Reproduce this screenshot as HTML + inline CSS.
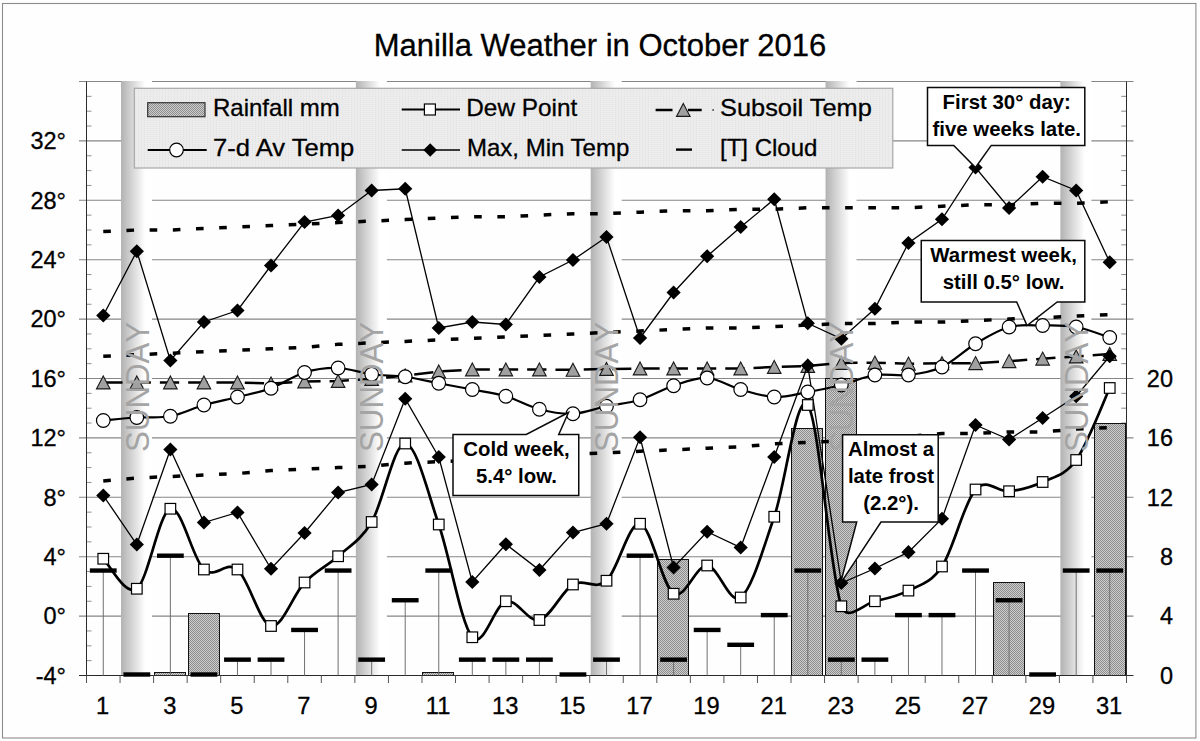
<!DOCTYPE html>
<html><head><meta charset="utf-8"><title>Manilla Weather in October 2016</title>
<style>html,body{margin:0;padding:0;background:#fefefe;}svg{display:block;font-family:"Liberation Sans",sans-serif;}</style></head>
<body>
<svg width="1200" height="741" viewBox="0 0 1200 741" font-family="Liberation Sans, sans-serif">
<defs>
<pattern id="pt" width="2" height="2" patternUnits="userSpaceOnUse"><rect width="2" height="2" fill="#cecece"/><rect width="1" height="1" fill="#8c8c8c"/><rect x="1" y="1" width="1" height="1" fill="#8c8c8c"/></pattern>
<pattern id="lg" width="3" height="2" patternUnits="userSpaceOnUse"><rect width="3" height="2" fill="#ececec"/><rect width="1" height="1" fill="#e2e2e2"/></pattern>
<linearGradient id="sg" x1="0" x2="1" y1="0" y2="0"><stop offset="0" stop-color="#b2b2b2"/><stop offset="0.78" stop-color="#ffffff"/><stop offset="1" stop-color="#ffffff"/></linearGradient>
</defs>
<rect width="1200" height="741" fill="#fefefe"/>
<rect x="2.5" y="3.5" width="1193.4" height="734.5" fill="none" stroke="#8c8c8c" stroke-width="1.1"/>
<text x="600" y="55.8" font-size="31" text-anchor="middle" fill="#000" stroke="#000" stroke-width="0.3">Manilla Weather in October 2016</text>
<line x1="79" x2="1133.5" y1="616.1" y2="616.1" stroke="#868686" stroke-width="1.1"/>
<line x1="79" x2="1133.5" y1="556.7" y2="556.7" stroke="#868686" stroke-width="1.1"/>
<line x1="79" x2="1133.5" y1="497.3" y2="497.3" stroke="#868686" stroke-width="1.1"/>
<line x1="79" x2="1133.5" y1="437.9" y2="437.9" stroke="#868686" stroke-width="1.1"/>
<line x1="79" x2="1133.5" y1="378.5" y2="378.5" stroke="#868686" stroke-width="1.1"/>
<line x1="79" x2="1133.5" y1="319.1" y2="319.1" stroke="#868686" stroke-width="1.1"/>
<line x1="79" x2="1133.5" y1="259.7" y2="259.7" stroke="#868686" stroke-width="1.1"/>
<line x1="79" x2="1133.5" y1="200.3" y2="200.3" stroke="#868686" stroke-width="1.1"/>
<line x1="79" x2="1133.5" y1="140.9" y2="140.9" stroke="#868686" stroke-width="1.1"/>
<line x1="79" x2="1133.5" y1="81.5" y2="81.5" stroke="#868686" stroke-width="1.1"/>
<rect x="121.02" y="81" width="31" height="594.5" fill="url(#sg)"/>
<rect x="355.86" y="81" width="31" height="594.5" fill="url(#sg)"/>
<rect x="590.7" y="81" width="31" height="594.5" fill="url(#sg)"/>
<rect x="825.54" y="81" width="31" height="594.5" fill="url(#sg)"/>
<rect x="1060.38" y="81" width="31" height="594.5" fill="url(#sg)"/>
<line x1="86.5" x2="91.5" y1="660.65" y2="660.65" stroke="#909090" stroke-width="1"/>
<line x1="1121.3" x2="1126.5" y1="660.65" y2="660.65" stroke="#888" stroke-width="1"/>
<line x1="86.5" x2="91.5" y1="645.8" y2="645.8" stroke="#909090" stroke-width="1"/>
<line x1="1121.3" x2="1126.5" y1="645.8" y2="645.8" stroke="#888" stroke-width="1"/>
<line x1="86.5" x2="91.5" y1="630.95" y2="630.95" stroke="#909090" stroke-width="1"/>
<line x1="1121.3" x2="1126.5" y1="630.95" y2="630.95" stroke="#888" stroke-width="1"/>
<line x1="86.5" x2="91.5" y1="601.25" y2="601.25" stroke="#909090" stroke-width="1"/>
<line x1="1121.3" x2="1126.5" y1="601.25" y2="601.25" stroke="#888" stroke-width="1"/>
<line x1="86.5" x2="91.5" y1="586.4" y2="586.4" stroke="#909090" stroke-width="1"/>
<line x1="1121.3" x2="1126.5" y1="586.4" y2="586.4" stroke="#888" stroke-width="1"/>
<line x1="86.5" x2="91.5" y1="571.55" y2="571.55" stroke="#909090" stroke-width="1"/>
<line x1="1121.3" x2="1126.5" y1="571.55" y2="571.55" stroke="#888" stroke-width="1"/>
<line x1="86.5" x2="91.5" y1="541.85" y2="541.85" stroke="#909090" stroke-width="1"/>
<line x1="1121.3" x2="1126.5" y1="541.85" y2="541.85" stroke="#888" stroke-width="1"/>
<line x1="86.5" x2="91.5" y1="527" y2="527" stroke="#909090" stroke-width="1"/>
<line x1="1121.3" x2="1126.5" y1="527" y2="527" stroke="#888" stroke-width="1"/>
<line x1="86.5" x2="91.5" y1="512.15" y2="512.15" stroke="#909090" stroke-width="1"/>
<line x1="1121.3" x2="1126.5" y1="512.15" y2="512.15" stroke="#888" stroke-width="1"/>
<line x1="86.5" x2="91.5" y1="482.45" y2="482.45" stroke="#909090" stroke-width="1"/>
<line x1="1121.3" x2="1126.5" y1="482.45" y2="482.45" stroke="#888" stroke-width="1"/>
<line x1="86.5" x2="91.5" y1="467.6" y2="467.6" stroke="#909090" stroke-width="1"/>
<line x1="1121.3" x2="1126.5" y1="467.6" y2="467.6" stroke="#888" stroke-width="1"/>
<line x1="86.5" x2="91.5" y1="452.75" y2="452.75" stroke="#909090" stroke-width="1"/>
<line x1="1121.3" x2="1126.5" y1="452.75" y2="452.75" stroke="#888" stroke-width="1"/>
<line x1="86.5" x2="91.5" y1="423.05" y2="423.05" stroke="#909090" stroke-width="1"/>
<line x1="1121.3" x2="1126.5" y1="423.05" y2="423.05" stroke="#888" stroke-width="1"/>
<line x1="86.5" x2="91.5" y1="408.2" y2="408.2" stroke="#909090" stroke-width="1"/>
<line x1="1121.3" x2="1126.5" y1="408.2" y2="408.2" stroke="#888" stroke-width="1"/>
<line x1="86.5" x2="91.5" y1="393.35" y2="393.35" stroke="#909090" stroke-width="1"/>
<line x1="1121.3" x2="1126.5" y1="393.35" y2="393.35" stroke="#888" stroke-width="1"/>
<line x1="86.5" x2="91.5" y1="363.65" y2="363.65" stroke="#909090" stroke-width="1"/>
<line x1="1121.3" x2="1126.5" y1="363.65" y2="363.65" stroke="#888" stroke-width="1"/>
<line x1="86.5" x2="91.5" y1="348.8" y2="348.8" stroke="#909090" stroke-width="1"/>
<line x1="1121.3" x2="1126.5" y1="348.8" y2="348.8" stroke="#888" stroke-width="1"/>
<line x1="86.5" x2="91.5" y1="333.95" y2="333.95" stroke="#909090" stroke-width="1"/>
<line x1="1121.3" x2="1126.5" y1="333.95" y2="333.95" stroke="#888" stroke-width="1"/>
<line x1="86.5" x2="91.5" y1="304.25" y2="304.25" stroke="#909090" stroke-width="1"/>
<line x1="1121.3" x2="1126.5" y1="304.25" y2="304.25" stroke="#888" stroke-width="1"/>
<line x1="86.5" x2="91.5" y1="289.4" y2="289.4" stroke="#909090" stroke-width="1"/>
<line x1="1121.3" x2="1126.5" y1="289.4" y2="289.4" stroke="#888" stroke-width="1"/>
<line x1="86.5" x2="91.5" y1="274.55" y2="274.55" stroke="#909090" stroke-width="1"/>
<line x1="1121.3" x2="1126.5" y1="274.55" y2="274.55" stroke="#888" stroke-width="1"/>
<line x1="86.5" x2="91.5" y1="244.85" y2="244.85" stroke="#909090" stroke-width="1"/>
<line x1="1121.3" x2="1126.5" y1="244.85" y2="244.85" stroke="#888" stroke-width="1"/>
<line x1="86.5" x2="91.5" y1="230" y2="230" stroke="#909090" stroke-width="1"/>
<line x1="1121.3" x2="1126.5" y1="230" y2="230" stroke="#888" stroke-width="1"/>
<line x1="86.5" x2="91.5" y1="215.15" y2="215.15" stroke="#909090" stroke-width="1"/>
<line x1="1121.3" x2="1126.5" y1="215.15" y2="215.15" stroke="#888" stroke-width="1"/>
<line x1="86.5" x2="91.5" y1="185.45" y2="185.45" stroke="#909090" stroke-width="1"/>
<line x1="1121.3" x2="1126.5" y1="185.45" y2="185.45" stroke="#888" stroke-width="1"/>
<line x1="86.5" x2="91.5" y1="170.6" y2="170.6" stroke="#909090" stroke-width="1"/>
<line x1="1121.3" x2="1126.5" y1="170.6" y2="170.6" stroke="#888" stroke-width="1"/>
<line x1="86.5" x2="91.5" y1="155.75" y2="155.75" stroke="#909090" stroke-width="1"/>
<line x1="1121.3" x2="1126.5" y1="155.75" y2="155.75" stroke="#888" stroke-width="1"/>
<line x1="86.5" x2="91.5" y1="126.05" y2="126.05" stroke="#909090" stroke-width="1"/>
<line x1="1121.3" x2="1126.5" y1="126.05" y2="126.05" stroke="#888" stroke-width="1"/>
<line x1="86.5" x2="91.5" y1="111.2" y2="111.2" stroke="#909090" stroke-width="1"/>
<line x1="1121.3" x2="1126.5" y1="111.2" y2="111.2" stroke="#888" stroke-width="1"/>
<line x1="86.5" x2="91.5" y1="96.35" y2="96.35" stroke="#909090" stroke-width="1"/>
<line x1="1121.3" x2="1126.5" y1="96.35" y2="96.35" stroke="#888" stroke-width="1"/>
<rect x="154.5" y="672.5" width="31" height="3" fill="url(#pt)" stroke="#111" stroke-width="1"/>
<rect x="188.5" y="613.5" width="31" height="62" fill="url(#pt)" stroke="#111" stroke-width="1"/>
<rect x="422.5" y="672.5" width="31" height="3" fill="url(#pt)" stroke="#111" stroke-width="1"/>
<rect x="657.5" y="559.5" width="31" height="116" fill="url(#pt)" stroke="#111" stroke-width="1"/>
<rect x="791.5" y="428.5" width="31" height="247" fill="url(#pt)" stroke="#111" stroke-width="1"/>
<rect x="825.5" y="378.5" width="31" height="297" fill="url(#pt)" stroke="#111" stroke-width="1"/>
<rect x="993.5" y="582.5" width="31" height="93" fill="url(#pt)" stroke="#111" stroke-width="1"/>
<rect x="1094.5" y="423.5" width="31" height="252" fill="url(#pt)" stroke="#111" stroke-width="1"/>
<line x1="86.5" x2="86.5" y1="81.5" y2="675.5" stroke="#2a2a2a" stroke-width="1"/>
<line x1="1126.5" x2="1126.5" y1="81.5" y2="675.5" stroke="#2a2a2a" stroke-width="1"/>
<line x1="79" x2="1133.5" y1="675.5" y2="675.5" stroke="#2a2a2a" stroke-width="1"/>
<line x1="86.5" x2="86.5" y1="675.5" y2="683" stroke="#555" stroke-width="1"/>
<line x1="120.05" x2="120.05" y1="675.5" y2="683" stroke="#555" stroke-width="1"/>
<line x1="153.6" x2="153.6" y1="675.5" y2="683" stroke="#555" stroke-width="1"/>
<line x1="187.15" x2="187.15" y1="675.5" y2="683" stroke="#555" stroke-width="1"/>
<line x1="220.69" x2="220.69" y1="675.5" y2="683" stroke="#555" stroke-width="1"/>
<line x1="254.24" x2="254.24" y1="675.5" y2="683" stroke="#555" stroke-width="1"/>
<line x1="287.79" x2="287.79" y1="675.5" y2="683" stroke="#555" stroke-width="1"/>
<line x1="321.34" x2="321.34" y1="675.5" y2="683" stroke="#555" stroke-width="1"/>
<line x1="354.89" x2="354.89" y1="675.5" y2="683" stroke="#555" stroke-width="1"/>
<line x1="388.44" x2="388.44" y1="675.5" y2="683" stroke="#555" stroke-width="1"/>
<line x1="421.98" x2="421.98" y1="675.5" y2="683" stroke="#555" stroke-width="1"/>
<line x1="455.53" x2="455.53" y1="675.5" y2="683" stroke="#555" stroke-width="1"/>
<line x1="489.08" x2="489.08" y1="675.5" y2="683" stroke="#555" stroke-width="1"/>
<line x1="522.63" x2="522.63" y1="675.5" y2="683" stroke="#555" stroke-width="1"/>
<line x1="556.18" x2="556.18" y1="675.5" y2="683" stroke="#555" stroke-width="1"/>
<line x1="589.73" x2="589.73" y1="675.5" y2="683" stroke="#555" stroke-width="1"/>
<line x1="623.27" x2="623.27" y1="675.5" y2="683" stroke="#555" stroke-width="1"/>
<line x1="656.82" x2="656.82" y1="675.5" y2="683" stroke="#555" stroke-width="1"/>
<line x1="690.37" x2="690.37" y1="675.5" y2="683" stroke="#555" stroke-width="1"/>
<line x1="723.92" x2="723.92" y1="675.5" y2="683" stroke="#555" stroke-width="1"/>
<line x1="757.47" x2="757.47" y1="675.5" y2="683" stroke="#555" stroke-width="1"/>
<line x1="791.02" x2="791.02" y1="675.5" y2="683" stroke="#555" stroke-width="1"/>
<line x1="824.56" x2="824.56" y1="675.5" y2="683" stroke="#555" stroke-width="1"/>
<line x1="858.11" x2="858.11" y1="675.5" y2="683" stroke="#555" stroke-width="1"/>
<line x1="891.66" x2="891.66" y1="675.5" y2="683" stroke="#555" stroke-width="1"/>
<line x1="925.21" x2="925.21" y1="675.5" y2="683" stroke="#555" stroke-width="1"/>
<line x1="958.76" x2="958.76" y1="675.5" y2="683" stroke="#555" stroke-width="1"/>
<line x1="992.31" x2="992.31" y1="675.5" y2="683" stroke="#555" stroke-width="1"/>
<line x1="1025.85" x2="1025.85" y1="675.5" y2="683" stroke="#555" stroke-width="1"/>
<line x1="1059.4" x2="1059.4" y1="675.5" y2="683" stroke="#555" stroke-width="1"/>
<line x1="1092.95" x2="1092.95" y1="675.5" y2="683" stroke="#555" stroke-width="1"/>
<line x1="1126.5" x2="1126.5" y1="675.5" y2="683" stroke="#555" stroke-width="1"/>
<line x1="103.27" x2="103.27" y1="571.85" y2="675.5" stroke="#707070" stroke-width="1"/>
<line x1="170.37" x2="170.37" y1="557" y2="675.5" stroke="#707070" stroke-width="1"/>
<line x1="237.47" x2="237.47" y1="660.95" y2="675.5" stroke="#707070" stroke-width="1"/>
<line x1="271.02" x2="271.02" y1="660.95" y2="675.5" stroke="#707070" stroke-width="1"/>
<line x1="304.56" x2="304.56" y1="631.25" y2="675.5" stroke="#707070" stroke-width="1"/>
<line x1="338.11" x2="338.11" y1="571.85" y2="675.5" stroke="#707070" stroke-width="1"/>
<line x1="371.66" x2="371.66" y1="660.95" y2="675.5" stroke="#707070" stroke-width="1"/>
<line x1="405.21" x2="405.21" y1="601.55" y2="675.5" stroke="#707070" stroke-width="1"/>
<line x1="438.76" x2="438.76" y1="571.85" y2="675.5" stroke="#707070" stroke-width="1"/>
<line x1="472.31" x2="472.31" y1="660.95" y2="675.5" stroke="#707070" stroke-width="1"/>
<line x1="505.85" x2="505.85" y1="660.95" y2="675.5" stroke="#707070" stroke-width="1"/>
<line x1="539.4" x2="539.4" y1="660.95" y2="675.5" stroke="#707070" stroke-width="1"/>
<line x1="606.5" x2="606.5" y1="660.95" y2="675.5" stroke="#707070" stroke-width="1"/>
<line x1="640.05" x2="640.05" y1="557" y2="675.5" stroke="#707070" stroke-width="1"/>
<line x1="673.6" x2="673.6" y1="660.95" y2="675.5" stroke="#707070" stroke-width="1"/>
<line x1="707.15" x2="707.15" y1="631.25" y2="675.5" stroke="#707070" stroke-width="1"/>
<line x1="740.69" x2="740.69" y1="646.1" y2="675.5" stroke="#707070" stroke-width="1"/>
<line x1="774.24" x2="774.24" y1="616.4" y2="675.5" stroke="#707070" stroke-width="1"/>
<line x1="807.79" x2="807.79" y1="571.85" y2="675.5" stroke="#707070" stroke-width="1"/>
<line x1="841.34" x2="841.34" y1="660.95" y2="675.5" stroke="#707070" stroke-width="1"/>
<line x1="874.89" x2="874.89" y1="660.95" y2="675.5" stroke="#707070" stroke-width="1"/>
<line x1="908.44" x2="908.44" y1="616.4" y2="675.5" stroke="#707070" stroke-width="1"/>
<line x1="941.98" x2="941.98" y1="616.4" y2="675.5" stroke="#707070" stroke-width="1"/>
<line x1="975.53" x2="975.53" y1="571.85" y2="675.5" stroke="#707070" stroke-width="1"/>
<line x1="1009.08" x2="1009.08" y1="601.55" y2="675.5" stroke="#707070" stroke-width="1"/>
<line x1="1076.18" x2="1076.18" y1="571.85" y2="675.5" stroke="#707070" stroke-width="1"/>
<line x1="1109.73" x2="1109.73" y1="571.85" y2="675.5" stroke="#707070" stroke-width="1"/>
<line x1="89.87" x2="116.67" y1="570.55" y2="570.55" stroke="#000" stroke-width="4.4"/>
<line x1="123.42" x2="150.22" y1="674.5" y2="674.5" stroke="#000" stroke-width="4.4"/>
<line x1="156.97" x2="183.77" y1="555.7" y2="555.7" stroke="#000" stroke-width="4.4"/>
<line x1="190.52" x2="217.32" y1="674.5" y2="674.5" stroke="#000" stroke-width="4.4"/>
<line x1="224.07" x2="250.87" y1="659.65" y2="659.65" stroke="#000" stroke-width="4.4"/>
<line x1="257.62" x2="284.42" y1="659.65" y2="659.65" stroke="#000" stroke-width="4.4"/>
<line x1="291.16" x2="317.96" y1="629.95" y2="629.95" stroke="#000" stroke-width="4.4"/>
<line x1="324.71" x2="351.51" y1="570.55" y2="570.55" stroke="#000" stroke-width="4.4"/>
<line x1="358.26" x2="385.06" y1="659.65" y2="659.65" stroke="#000" stroke-width="4.4"/>
<line x1="391.81" x2="418.61" y1="600.25" y2="600.25" stroke="#000" stroke-width="4.4"/>
<line x1="425.36" x2="452.16" y1="570.55" y2="570.55" stroke="#000" stroke-width="4.4"/>
<line x1="458.91" x2="485.71" y1="659.65" y2="659.65" stroke="#000" stroke-width="4.4"/>
<line x1="492.45" x2="519.25" y1="659.65" y2="659.65" stroke="#000" stroke-width="4.4"/>
<line x1="526" x2="552.8" y1="659.65" y2="659.65" stroke="#000" stroke-width="4.4"/>
<line x1="559.55" x2="586.35" y1="674.5" y2="674.5" stroke="#000" stroke-width="4.4"/>
<line x1="593.1" x2="619.9" y1="659.65" y2="659.65" stroke="#000" stroke-width="4.4"/>
<line x1="626.65" x2="653.45" y1="555.7" y2="555.7" stroke="#000" stroke-width="4.4"/>
<line x1="660.2" x2="687" y1="659.65" y2="659.65" stroke="#000" stroke-width="4.4"/>
<line x1="693.75" x2="720.55" y1="629.95" y2="629.95" stroke="#000" stroke-width="4.4"/>
<line x1="727.29" x2="754.09" y1="644.8" y2="644.8" stroke="#000" stroke-width="4.4"/>
<line x1="760.84" x2="787.64" y1="615.1" y2="615.1" stroke="#000" stroke-width="4.4"/>
<line x1="794.39" x2="821.19" y1="570.55" y2="570.55" stroke="#000" stroke-width="4.4"/>
<line x1="827.94" x2="854.74" y1="659.65" y2="659.65" stroke="#000" stroke-width="4.4"/>
<line x1="861.49" x2="888.29" y1="659.65" y2="659.65" stroke="#000" stroke-width="4.4"/>
<line x1="895.04" x2="921.84" y1="615.1" y2="615.1" stroke="#000" stroke-width="4.4"/>
<line x1="928.58" x2="955.38" y1="615.1" y2="615.1" stroke="#000" stroke-width="4.4"/>
<line x1="962.13" x2="988.93" y1="570.55" y2="570.55" stroke="#000" stroke-width="4.4"/>
<line x1="995.68" x2="1022.48" y1="600.25" y2="600.25" stroke="#000" stroke-width="4.4"/>
<line x1="1029.23" x2="1056.03" y1="674.5" y2="674.5" stroke="#000" stroke-width="4.4"/>
<line x1="1062.78" x2="1089.58" y1="570.55" y2="570.55" stroke="#000" stroke-width="4.4"/>
<line x1="1096.33" x2="1123.13" y1="570.55" y2="570.55" stroke="#000" stroke-width="4.4"/>
<polyline points="103.27,231.49 136.82,230 170.37,230 203.92,228.51 237.47,227.03 271.02,225.55 304.56,224.06 338.11,222.57 371.66,221.09 405.21,219.61 438.76,218.12 472.31,216.64 505.85,216.64 539.4,215.15 572.95,213.66 606.5,213.66 640.05,212.18 673.6,210.69 707.15,210.69 740.69,209.21 774.24,209.21 807.79,207.73 841.34,207.73 874.89,207.73 908.44,207.73 941.98,206.24 975.53,204.75 1009.08,204.75 1042.63,203.27 1076.18,203.27 1109.73,201.79" fill="none" stroke="#000" stroke-width="3.5" stroke-dasharray="7.6 15.6"/>
<polyline points="103.27,356.23 136.82,354.74 170.37,353.25 203.92,351.77 237.47,350.29 271.02,348.8 304.56,347.31 338.11,344.34 371.66,342.86 405.21,341.38 438.76,339.89 472.31,338.41 505.85,336.92 539.4,335.44 572.95,333.95 606.5,332.46 640.05,330.98 673.6,329.5 707.15,328.01 740.69,328.01 774.24,326.53 807.79,325.04 841.34,323.56 874.89,323.56 908.44,322.07 941.98,322.07 975.53,320.59 1009.08,319.1 1042.63,317.62 1076.18,316.13 1109.73,314.64" fill="none" stroke="#000" stroke-width="3.5" stroke-dasharray="7.6 15.6"/>
<polyline points="103.27,480.97 136.82,478 170.37,476.51 203.92,475.02 237.47,473.54 271.02,470.57 304.56,469.09 338.11,467.6 371.66,466.12 405.21,463.14 438.76,461.66 472.31,460.18 505.85,458.69 539.4,457.21 572.95,454.24 606.5,452.75 640.05,451.26 673.6,449.78 707.15,448.29 740.69,446.81 774.24,443.84 807.79,442.36 841.34,440.87 874.89,437.9 908.44,436.41 941.98,433.44 975.53,433.44 1009.08,431.96 1042.63,431.96 1076.18,428.99 1109.73,427.5" fill="none" stroke="#000" stroke-width="3.5" stroke-dasharray="7.6 15.6"/>
<polyline points="103.27,382.5 136.82,382.5 170.37,382.5 203.92,382.5 237.47,382.5 271.02,383.5 304.56,381.5 338.11,381 371.66,379 405.21,375.5 438.76,371.5 472.31,369.5 505.85,369.5 539.4,369.5 572.95,369.8 606.5,369 640.05,368.5 673.6,368.5 707.15,368.5 740.69,368.5 774.24,367 807.79,366 841.34,363 874.89,362.7 908.44,363.7 941.98,363.3 975.53,363.2 1009.08,361.2 1042.63,358.7 1076.18,356.5 1109.73,354" fill="none" stroke="#000" stroke-width="2.5" stroke-dasharray="19.3 9"/>
<path d="M103.27,375.9 L110.07,388.9 L96.47,388.9 Z" fill="#a0a0a0" stroke="#1a1a1a" stroke-width="1.1"/>
<path d="M136.82,375.9 L143.62,388.9 L130.02,388.9 Z" fill="#a0a0a0" stroke="#1a1a1a" stroke-width="1.1"/>
<path d="M170.37,375.9 L177.17,388.9 L163.57,388.9 Z" fill="#a0a0a0" stroke="#1a1a1a" stroke-width="1.1"/>
<path d="M203.92,375.9 L210.72,388.9 L197.12,388.9 Z" fill="#a0a0a0" stroke="#1a1a1a" stroke-width="1.1"/>
<path d="M237.47,375.9 L244.27,388.9 L230.67,388.9 Z" fill="#a0a0a0" stroke="#1a1a1a" stroke-width="1.1"/>
<path d="M271.02,376.9 L277.82,389.9 L264.22,389.9 Z" fill="#a0a0a0" stroke="#1a1a1a" stroke-width="1.1"/>
<path d="M304.56,374.9 L311.36,387.9 L297.76,387.9 Z" fill="#a0a0a0" stroke="#1a1a1a" stroke-width="1.1"/>
<path d="M338.11,374.4 L344.91,387.4 L331.31,387.4 Z" fill="#a0a0a0" stroke="#1a1a1a" stroke-width="1.1"/>
<path d="M371.66,372.4 L378.46,385.4 L364.86,385.4 Z" fill="#a0a0a0" stroke="#1a1a1a" stroke-width="1.1"/>
<path d="M405.21,368.9 L412.01,381.9 L398.41,381.9 Z" fill="#a0a0a0" stroke="#1a1a1a" stroke-width="1.1"/>
<path d="M438.76,364.9 L445.56,377.9 L431.96,377.9 Z" fill="#a0a0a0" stroke="#1a1a1a" stroke-width="1.1"/>
<path d="M472.31,362.9 L479.11,375.9 L465.51,375.9 Z" fill="#a0a0a0" stroke="#1a1a1a" stroke-width="1.1"/>
<path d="M505.85,362.9 L512.65,375.9 L499.05,375.9 Z" fill="#a0a0a0" stroke="#1a1a1a" stroke-width="1.1"/>
<path d="M539.4,362.9 L546.2,375.9 L532.6,375.9 Z" fill="#a0a0a0" stroke="#1a1a1a" stroke-width="1.1"/>
<path d="M572.95,363.2 L579.75,376.2 L566.15,376.2 Z" fill="#a0a0a0" stroke="#1a1a1a" stroke-width="1.1"/>
<path d="M606.5,362.4 L613.3,375.4 L599.7,375.4 Z" fill="#a0a0a0" stroke="#1a1a1a" stroke-width="1.1"/>
<path d="M640.05,361.9 L646.85,374.9 L633.25,374.9 Z" fill="#a0a0a0" stroke="#1a1a1a" stroke-width="1.1"/>
<path d="M673.6,361.9 L680.4,374.9 L666.8,374.9 Z" fill="#a0a0a0" stroke="#1a1a1a" stroke-width="1.1"/>
<path d="M707.15,361.9 L713.95,374.9 L700.35,374.9 Z" fill="#a0a0a0" stroke="#1a1a1a" stroke-width="1.1"/>
<path d="M740.69,361.9 L747.49,374.9 L733.89,374.9 Z" fill="#a0a0a0" stroke="#1a1a1a" stroke-width="1.1"/>
<path d="M774.24,360.4 L781.04,373.4 L767.44,373.4 Z" fill="#a0a0a0" stroke="#1a1a1a" stroke-width="1.1"/>
<path d="M807.79,359.4 L814.59,372.4 L800.99,372.4 Z" fill="#a0a0a0" stroke="#1a1a1a" stroke-width="1.1"/>
<path d="M841.34,356.4 L848.14,369.4 L834.54,369.4 Z" fill="#a0a0a0" stroke="#1a1a1a" stroke-width="1.1"/>
<path d="M874.89,356.1 L881.69,369.1 L868.09,369.1 Z" fill="#a0a0a0" stroke="#1a1a1a" stroke-width="1.1"/>
<path d="M908.44,357.1 L915.24,370.1 L901.64,370.1 Z" fill="#a0a0a0" stroke="#1a1a1a" stroke-width="1.1"/>
<path d="M941.98,356.7 L948.78,369.7 L935.18,369.7 Z" fill="#a0a0a0" stroke="#1a1a1a" stroke-width="1.1"/>
<path d="M975.53,356.6 L982.33,369.6 L968.73,369.6 Z" fill="#a0a0a0" stroke="#1a1a1a" stroke-width="1.1"/>
<path d="M1009.08,354.6 L1015.88,367.6 L1002.28,367.6 Z" fill="#a0a0a0" stroke="#1a1a1a" stroke-width="1.1"/>
<path d="M1042.63,352.1 L1049.43,365.1 L1035.83,365.1 Z" fill="#a0a0a0" stroke="#1a1a1a" stroke-width="1.1"/>
<path d="M1076.18,349.9 L1082.98,362.9 L1069.38,362.9 Z" fill="#a0a0a0" stroke="#1a1a1a" stroke-width="1.1"/>
<path d="M1109.73,347.4 L1116.53,360.4 L1102.93,360.4 Z" fill="#a0a0a0" stroke="#1a1a1a" stroke-width="1.1"/>
<polyline points="103.27,315.5 136.82,251.25 170.37,360.5 203.92,322 237.47,310.5 271.02,265.5 304.56,222 338.11,215.5 371.66,190.5 405.21,188.75 438.76,328 472.31,322 505.85,324.5 539.4,277 572.95,260 606.5,237 640.05,338 673.6,292.5 707.15,256.25 740.69,227 774.24,199.25 807.79,323.25 841.34,338.75 874.89,308.75 908.44,243 941.98,219.25 975.53,167.5 1009.08,208 1042.63,176.75 1076.18,190.5 1109.73,262.25" fill="none" stroke="#000" stroke-width="1.3"/>
<path d="M103.27,308.4 L110.37,315.5 L103.27,322.6 L96.17,315.5 Z" fill="#000"/>
<path d="M136.82,244.15 L143.92,251.25 L136.82,258.35 L129.72,251.25 Z" fill="#000"/>
<path d="M170.37,353.4 L177.47,360.5 L170.37,367.6 L163.27,360.5 Z" fill="#000"/>
<path d="M203.92,314.9 L211.02,322 L203.92,329.1 L196.82,322 Z" fill="#000"/>
<path d="M237.47,303.4 L244.57,310.5 L237.47,317.6 L230.37,310.5 Z" fill="#000"/>
<path d="M271.02,258.4 L278.12,265.5 L271.02,272.6 L263.92,265.5 Z" fill="#000"/>
<path d="M304.56,214.9 L311.66,222 L304.56,229.1 L297.46,222 Z" fill="#000"/>
<path d="M338.11,208.4 L345.21,215.5 L338.11,222.6 L331.01,215.5 Z" fill="#000"/>
<path d="M371.66,183.4 L378.76,190.5 L371.66,197.6 L364.56,190.5 Z" fill="#000"/>
<path d="M405.21,181.65 L412.31,188.75 L405.21,195.85 L398.11,188.75 Z" fill="#000"/>
<path d="M438.76,320.9 L445.86,328 L438.76,335.1 L431.66,328 Z" fill="#000"/>
<path d="M472.31,314.9 L479.41,322 L472.31,329.1 L465.21,322 Z" fill="#000"/>
<path d="M505.85,317.4 L512.95,324.5 L505.85,331.6 L498.75,324.5 Z" fill="#000"/>
<path d="M539.4,269.9 L546.5,277 L539.4,284.1 L532.3,277 Z" fill="#000"/>
<path d="M572.95,252.9 L580.05,260 L572.95,267.1 L565.85,260 Z" fill="#000"/>
<path d="M606.5,229.9 L613.6,237 L606.5,244.1 L599.4,237 Z" fill="#000"/>
<path d="M640.05,330.9 L647.15,338 L640.05,345.1 L632.95,338 Z" fill="#000"/>
<path d="M673.6,285.4 L680.7,292.5 L673.6,299.6 L666.5,292.5 Z" fill="#000"/>
<path d="M707.15,249.15 L714.25,256.25 L707.15,263.35 L700.05,256.25 Z" fill="#000"/>
<path d="M740.69,219.9 L747.79,227 L740.69,234.1 L733.59,227 Z" fill="#000"/>
<path d="M774.24,192.15 L781.34,199.25 L774.24,206.35 L767.14,199.25 Z" fill="#000"/>
<path d="M807.79,316.15 L814.89,323.25 L807.79,330.35 L800.69,323.25 Z" fill="#000"/>
<path d="M841.34,331.65 L848.44,338.75 L841.34,345.85 L834.24,338.75 Z" fill="#000"/>
<path d="M874.89,301.65 L881.99,308.75 L874.89,315.85 L867.79,308.75 Z" fill="#000"/>
<path d="M908.44,235.9 L915.54,243 L908.44,250.1 L901.34,243 Z" fill="#000"/>
<path d="M941.98,212.15 L949.08,219.25 L941.98,226.35 L934.88,219.25 Z" fill="#000"/>
<path d="M975.53,160.4 L982.63,167.5 L975.53,174.6 L968.43,167.5 Z" fill="#000"/>
<path d="M1009.08,200.9 L1016.18,208 L1009.08,215.1 L1001.98,208 Z" fill="#000"/>
<path d="M1042.63,169.65 L1049.73,176.75 L1042.63,183.85 L1035.53,176.75 Z" fill="#000"/>
<path d="M1076.18,183.4 L1083.28,190.5 L1076.18,197.6 L1069.08,190.5 Z" fill="#000"/>
<path d="M1109.73,255.15 L1116.83,262.25 L1109.73,269.35 L1102.63,262.25 Z" fill="#000"/>
<polyline points="103.27,495.5 136.82,544.5 170.37,449.5 203.92,522.5 237.47,512.5 271.02,568.75 304.56,533 338.11,492.5 371.66,484.5 405.21,398.75 438.76,457 472.31,582 505.85,544.25 539.4,570 572.95,532.5 606.5,523.75 640.05,437.25 673.6,567.5 707.15,531.75 740.69,547.5 774.24,457 807.79,365.5 841.34,583 874.89,568.5 908.44,552.2 941.98,518.75 975.53,425 1009.08,439.5 1042.63,418 1076.18,396.25 1109.73,356.25" fill="none" stroke="#000" stroke-width="1.3"/>
<path d="M103.27,488.4 L110.37,495.5 L103.27,502.6 L96.17,495.5 Z" fill="#000"/>
<path d="M136.82,537.4 L143.92,544.5 L136.82,551.6 L129.72,544.5 Z" fill="#000"/>
<path d="M170.37,442.4 L177.47,449.5 L170.37,456.6 L163.27,449.5 Z" fill="#000"/>
<path d="M203.92,515.4 L211.02,522.5 L203.92,529.6 L196.82,522.5 Z" fill="#000"/>
<path d="M237.47,505.4 L244.57,512.5 L237.47,519.6 L230.37,512.5 Z" fill="#000"/>
<path d="M271.02,561.65 L278.12,568.75 L271.02,575.85 L263.92,568.75 Z" fill="#000"/>
<path d="M304.56,525.9 L311.66,533 L304.56,540.1 L297.46,533 Z" fill="#000"/>
<path d="M338.11,485.4 L345.21,492.5 L338.11,499.6 L331.01,492.5 Z" fill="#000"/>
<path d="M371.66,477.4 L378.76,484.5 L371.66,491.6 L364.56,484.5 Z" fill="#000"/>
<path d="M405.21,391.65 L412.31,398.75 L405.21,405.85 L398.11,398.75 Z" fill="#000"/>
<path d="M438.76,449.9 L445.86,457 L438.76,464.1 L431.66,457 Z" fill="#000"/>
<path d="M472.31,574.9 L479.41,582 L472.31,589.1 L465.21,582 Z" fill="#000"/>
<path d="M505.85,537.15 L512.95,544.25 L505.85,551.35 L498.75,544.25 Z" fill="#000"/>
<path d="M539.4,562.9 L546.5,570 L539.4,577.1 L532.3,570 Z" fill="#000"/>
<path d="M572.95,525.4 L580.05,532.5 L572.95,539.6 L565.85,532.5 Z" fill="#000"/>
<path d="M606.5,516.65 L613.6,523.75 L606.5,530.85 L599.4,523.75 Z" fill="#000"/>
<path d="M640.05,430.15 L647.15,437.25 L640.05,444.35 L632.95,437.25 Z" fill="#000"/>
<path d="M673.6,560.4 L680.7,567.5 L673.6,574.6 L666.5,567.5 Z" fill="#000"/>
<path d="M707.15,524.65 L714.25,531.75 L707.15,538.85 L700.05,531.75 Z" fill="#000"/>
<path d="M740.69,540.4 L747.79,547.5 L740.69,554.6 L733.59,547.5 Z" fill="#000"/>
<path d="M774.24,449.9 L781.34,457 L774.24,464.1 L767.14,457 Z" fill="#000"/>
<path d="M807.79,358.4 L814.89,365.5 L807.79,372.6 L800.69,365.5 Z" fill="#000"/>
<path d="M841.34,575.9 L848.44,583 L841.34,590.1 L834.24,583 Z" fill="#000"/>
<path d="M874.89,561.4 L881.99,568.5 L874.89,575.6 L867.79,568.5 Z" fill="#000"/>
<path d="M908.44,545.1 L915.54,552.2 L908.44,559.3 L901.34,552.2 Z" fill="#000"/>
<path d="M941.98,511.65 L949.08,518.75 L941.98,525.85 L934.88,518.75 Z" fill="#000"/>
<path d="M975.53,417.9 L982.63,425 L975.53,432.1 L968.43,425 Z" fill="#000"/>
<path d="M1009.08,432.4 L1016.18,439.5 L1009.08,446.6 L1001.98,439.5 Z" fill="#000"/>
<path d="M1042.63,410.9 L1049.73,418 L1042.63,425.1 L1035.53,418 Z" fill="#000"/>
<path d="M1076.18,389.15 L1083.28,396.25 L1076.18,403.35 L1069.08,396.25 Z" fill="#000"/>
<path d="M1109.73,349.15 L1116.83,356.25 L1109.73,363.35 L1102.63,356.25 Z" fill="#000"/>
<path d="M103.27,558.75C108.87,563.75 125.64,597.08 136.82,588.75C148.01,580.42 159.19,511.96 170.37,508.75C181.55,505.54 192.74,559.38 203.92,569.5C215.1,579.62 226.28,560.08 237.47,569.5C248.65,578.92 259.83,623.83 271.02,626C282.2,628.17 293.38,594.12 304.56,582.5C315.75,570.88 326.93,566.33 338.11,556.25C349.3,546.17 360.48,540.79 371.66,522C382.84,503.21 394.03,443.08 405.21,443.5C416.39,443.92 427.58,492.21 438.76,524.5C449.94,556.79 461.12,624.46 472.31,637.25C483.49,650.04 494.67,604.12 505.85,601.25C517.04,598.38 528.22,622.79 539.4,620C550.59,617.21 561.77,591.04 572.95,584.5C584.13,577.96 595.32,590.88 606.5,580.75C617.68,570.62 628.87,521.58 640.05,523.75C651.23,525.92 662.41,586.79 673.6,593.75C684.78,600.71 695.96,564.88 707.15,565.5C718.33,566.12 729.51,605.62 740.69,597.5C751.88,589.38 763.06,548.83 774.24,516.75C785.42,484.67 796.61,390.08 807.79,405C818.97,419.92 830.16,573.54 841.34,606.25C846.92,622.56 863.7,603.86 874.89,601.25C886.07,598.64 897.25,596.39 908.44,590.6C919.62,584.81 930.8,583.35 941.98,566.5C953.17,549.65 964.35,502.04 975.53,489.5C986.72,476.96 997.9,492.5 1009.08,491.25C1020.26,490 1031.45,487.21 1042.63,482C1053.81,476.79 1064.99,475.67 1076.18,460C1087.36,444.33 1104.13,400 1109.73,388" fill="none" stroke="#000" stroke-width="2.7"/>
<rect x="97.97" y="553.45" width="10.6" height="10.6" fill="#fff" stroke="#000" stroke-width="1.2"/>
<rect x="131.52" y="583.45" width="10.6" height="10.6" fill="#fff" stroke="#000" stroke-width="1.2"/>
<rect x="165.07" y="503.45" width="10.6" height="10.6" fill="#fff" stroke="#000" stroke-width="1.2"/>
<rect x="198.62" y="564.2" width="10.6" height="10.6" fill="#fff" stroke="#000" stroke-width="1.2"/>
<rect x="232.17" y="564.2" width="10.6" height="10.6" fill="#fff" stroke="#000" stroke-width="1.2"/>
<rect x="265.72" y="620.7" width="10.6" height="10.6" fill="#fff" stroke="#000" stroke-width="1.2"/>
<rect x="299.26" y="577.2" width="10.6" height="10.6" fill="#fff" stroke="#000" stroke-width="1.2"/>
<rect x="332.81" y="550.95" width="10.6" height="10.6" fill="#fff" stroke="#000" stroke-width="1.2"/>
<rect x="366.36" y="516.7" width="10.6" height="10.6" fill="#fff" stroke="#000" stroke-width="1.2"/>
<rect x="399.91" y="438.2" width="10.6" height="10.6" fill="#fff" stroke="#000" stroke-width="1.2"/>
<rect x="433.46" y="519.2" width="10.6" height="10.6" fill="#fff" stroke="#000" stroke-width="1.2"/>
<rect x="467.01" y="631.95" width="10.6" height="10.6" fill="#fff" stroke="#000" stroke-width="1.2"/>
<rect x="500.55" y="595.95" width="10.6" height="10.6" fill="#fff" stroke="#000" stroke-width="1.2"/>
<rect x="534.1" y="614.7" width="10.6" height="10.6" fill="#fff" stroke="#000" stroke-width="1.2"/>
<rect x="567.65" y="579.2" width="10.6" height="10.6" fill="#fff" stroke="#000" stroke-width="1.2"/>
<rect x="601.2" y="575.45" width="10.6" height="10.6" fill="#fff" stroke="#000" stroke-width="1.2"/>
<rect x="634.75" y="518.45" width="10.6" height="10.6" fill="#fff" stroke="#000" stroke-width="1.2"/>
<rect x="668.3" y="588.45" width="10.6" height="10.6" fill="#fff" stroke="#000" stroke-width="1.2"/>
<rect x="701.85" y="560.2" width="10.6" height="10.6" fill="#fff" stroke="#000" stroke-width="1.2"/>
<rect x="735.39" y="592.2" width="10.6" height="10.6" fill="#fff" stroke="#000" stroke-width="1.2"/>
<rect x="768.94" y="511.45" width="10.6" height="10.6" fill="#fff" stroke="#000" stroke-width="1.2"/>
<rect x="802.49" y="399.7" width="10.6" height="10.6" fill="#fff" stroke="#000" stroke-width="1.2"/>
<rect x="836.04" y="600.95" width="10.6" height="10.6" fill="#fff" stroke="#000" stroke-width="1.2"/>
<rect x="869.59" y="595.95" width="10.6" height="10.6" fill="#fff" stroke="#000" stroke-width="1.2"/>
<rect x="903.14" y="585.3" width="10.6" height="10.6" fill="#fff" stroke="#000" stroke-width="1.2"/>
<rect x="936.68" y="561.2" width="10.6" height="10.6" fill="#fff" stroke="#000" stroke-width="1.2"/>
<rect x="970.23" y="484.2" width="10.6" height="10.6" fill="#fff" stroke="#000" stroke-width="1.2"/>
<rect x="1003.78" y="485.95" width="10.6" height="10.6" fill="#fff" stroke="#000" stroke-width="1.2"/>
<rect x="1037.33" y="476.7" width="10.6" height="10.6" fill="#fff" stroke="#000" stroke-width="1.2"/>
<rect x="1070.88" y="454.7" width="10.6" height="10.6" fill="#fff" stroke="#000" stroke-width="1.2"/>
<rect x="1104.43" y="382.7" width="10.6" height="10.6" fill="#fff" stroke="#000" stroke-width="1.2"/>
<path d="M103.27,420.5C108.87,420 125.64,418.21 136.82,417.5C148.01,416.79 159.19,418.33 170.37,416.25C181.55,414.17 192.74,408.21 203.92,405C215.1,401.79 226.28,399.79 237.47,397C248.65,394.21 259.83,392.33 271.02,388.25C282.2,384.17 293.38,375.88 304.56,372.5C315.75,369.12 326.93,367.71 338.11,368C349.3,368.29 360.48,372.79 371.66,374.25C382.84,375.71 394.03,375.25 405.21,376.75C416.39,378.25 427.58,381.12 438.76,383.25C449.94,385.38 461.12,387.33 472.31,389.5C483.49,391.67 494.67,392.96 505.85,396.25C517.04,399.54 528.22,406.33 539.4,409.25C550.59,412.17 561.77,414.25 572.95,413.75C584.13,413.25 595.32,408.58 606.5,406.25C617.68,403.92 628.87,403.17 640.05,399.75C651.23,396.33 662.41,389.38 673.6,385.75C684.78,382.12 695.96,377.38 707.15,378C718.33,378.62 729.51,386.33 740.69,389.5C751.88,392.67 763.06,396.58 774.24,397C785.42,397.42 796.61,394 807.79,392C818.97,390 830.16,387.83 841.34,385C852.52,382.17 863.7,376.67 874.89,375C886.07,373.33 897.25,376.33 908.44,375C919.62,373.67 930.8,372.21 941.98,367C953.17,361.79 964.35,350.42 975.53,343.75C986.72,337.08 997.9,330.04 1009.08,327C1020.26,323.96 1031.45,325.5 1042.63,325.5C1053.81,325.5 1064.99,325 1076.18,327C1087.36,329 1104.13,335.75 1109.73,337.5" fill="none" stroke="#000" stroke-width="2.2"/>
<circle cx="103.27" cy="420.5" r="6.8" fill="#fff" stroke="#000" stroke-width="1.2"/>
<circle cx="136.82" cy="417.5" r="6.8" fill="#fff" stroke="#000" stroke-width="1.2"/>
<circle cx="170.37" cy="416.25" r="6.8" fill="#fff" stroke="#000" stroke-width="1.2"/>
<circle cx="203.92" cy="405" r="6.8" fill="#fff" stroke="#000" stroke-width="1.2"/>
<circle cx="237.47" cy="397" r="6.8" fill="#fff" stroke="#000" stroke-width="1.2"/>
<circle cx="271.02" cy="388.25" r="6.8" fill="#fff" stroke="#000" stroke-width="1.2"/>
<circle cx="304.56" cy="372.5" r="6.8" fill="#fff" stroke="#000" stroke-width="1.2"/>
<circle cx="338.11" cy="368" r="6.8" fill="#fff" stroke="#000" stroke-width="1.2"/>
<circle cx="371.66" cy="374.25" r="6.8" fill="#fff" stroke="#000" stroke-width="1.2"/>
<circle cx="405.21" cy="376.75" r="6.8" fill="#fff" stroke="#000" stroke-width="1.2"/>
<circle cx="438.76" cy="383.25" r="6.8" fill="#fff" stroke="#000" stroke-width="1.2"/>
<circle cx="472.31" cy="389.5" r="6.8" fill="#fff" stroke="#000" stroke-width="1.2"/>
<circle cx="505.85" cy="396.25" r="6.8" fill="#fff" stroke="#000" stroke-width="1.2"/>
<circle cx="539.4" cy="409.25" r="6.8" fill="#fff" stroke="#000" stroke-width="1.2"/>
<circle cx="572.95" cy="413.75" r="6.8" fill="#fff" stroke="#000" stroke-width="1.2"/>
<circle cx="606.5" cy="406.25" r="6.8" fill="#fff" stroke="#000" stroke-width="1.2"/>
<circle cx="640.05" cy="399.75" r="6.8" fill="#fff" stroke="#000" stroke-width="1.2"/>
<circle cx="673.6" cy="385.75" r="6.8" fill="#fff" stroke="#000" stroke-width="1.2"/>
<circle cx="707.15" cy="378" r="6.8" fill="#fff" stroke="#000" stroke-width="1.2"/>
<circle cx="740.69" cy="389.5" r="6.8" fill="#fff" stroke="#000" stroke-width="1.2"/>
<circle cx="774.24" cy="397" r="6.8" fill="#fff" stroke="#000" stroke-width="1.2"/>
<circle cx="807.79" cy="392" r="6.8" fill="#fff" stroke="#000" stroke-width="1.2"/>
<circle cx="841.34" cy="385" r="6.8" fill="#fff" stroke="#000" stroke-width="1.2"/>
<circle cx="874.89" cy="375" r="6.8" fill="#fff" stroke="#000" stroke-width="1.2"/>
<circle cx="908.44" cy="375" r="6.8" fill="#fff" stroke="#000" stroke-width="1.2"/>
<circle cx="941.98" cy="367" r="6.8" fill="#fff" stroke="#000" stroke-width="1.2"/>
<circle cx="975.53" cy="343.75" r="6.8" fill="#fff" stroke="#000" stroke-width="1.2"/>
<circle cx="1009.08" cy="327" r="6.8" fill="#fff" stroke="#000" stroke-width="1.2"/>
<circle cx="1042.63" cy="325.5" r="6.8" fill="#fff" stroke="#000" stroke-width="1.2"/>
<circle cx="1076.18" cy="327" r="6.8" fill="#fff" stroke="#000" stroke-width="1.2"/>
<circle cx="1109.73" cy="337.5" r="6.8" fill="#fff" stroke="#000" stroke-width="1.2"/>
<text transform="translate(148.62,452) rotate(-90)" font-size="32.3" fill="#a4a4a4" style="font-kerning:none" textLength="130.2" lengthAdjust="spacingAndGlyphs">SUNDAY</text>
<text transform="translate(383.46,452) rotate(-90)" font-size="32.3" fill="#a4a4a4" style="font-kerning:none" textLength="130.2" lengthAdjust="spacingAndGlyphs">SUNDAY</text>
<text transform="translate(618.3,452) rotate(-90)" font-size="32.3" fill="#a4a4a4" style="font-kerning:none" textLength="130.2" lengthAdjust="spacingAndGlyphs">SUNDAY</text>
<text transform="translate(853.14,452) rotate(-90)" font-size="32.3" fill="#a4a4a4" style="font-kerning:none" textLength="130.2" lengthAdjust="spacingAndGlyphs">SUNDAY</text>
<text transform="translate(1087.98,452) rotate(-90)" font-size="32.3" fill="#a4a4a4" style="font-kerning:none" textLength="130.2" lengthAdjust="spacingAndGlyphs">SUNDAY</text>
<text x="66" y="683.7" font-size="23.5" text-anchor="end" stroke="#000" stroke-width="0.3">-4°</text>
<text x="66" y="624.3" font-size="23.5" text-anchor="end" stroke="#000" stroke-width="0.3">0°</text>
<text x="66" y="564.9" font-size="23.5" text-anchor="end" stroke="#000" stroke-width="0.3">4°</text>
<text x="66" y="505.5" font-size="23.5" text-anchor="end" stroke="#000" stroke-width="0.3">8°</text>
<text x="66" y="446.1" font-size="23.5" text-anchor="end" stroke="#000" stroke-width="0.3">12°</text>
<text x="66" y="386.7" font-size="23.5" text-anchor="end" stroke="#000" stroke-width="0.3">16°</text>
<text x="66" y="327.3" font-size="23.5" text-anchor="end" stroke="#000" stroke-width="0.3">20°</text>
<text x="66" y="267.9" font-size="23.5" text-anchor="end" stroke="#000" stroke-width="0.3">24°</text>
<text x="66" y="208.5" font-size="23.5" text-anchor="end" stroke="#000" stroke-width="0.3">28°</text>
<text x="66" y="149.1" font-size="23.5" text-anchor="end" stroke="#000" stroke-width="0.3">32°</text>
<text x="1173" y="683.7" font-size="23.5" text-anchor="end" stroke="#000" stroke-width="0.3">0</text>
<text x="1173" y="624.3" font-size="23.5" text-anchor="end" stroke="#000" stroke-width="0.3">4</text>
<text x="1173" y="564.9" font-size="23.5" text-anchor="end" stroke="#000" stroke-width="0.3">8</text>
<text x="1173" y="505.5" font-size="23.5" text-anchor="end" stroke="#000" stroke-width="0.3">12</text>
<text x="1173" y="446.1" font-size="23.5" text-anchor="end" stroke="#000" stroke-width="0.3">16</text>
<text x="1173" y="386.7" font-size="23.5" text-anchor="end" stroke="#000" stroke-width="0.3">20</text>
<text x="102.67" y="713.5" font-size="23.7" text-anchor="middle" stroke="#000" stroke-width="0.3">1</text>
<text x="169.77" y="713.5" font-size="23.7" text-anchor="middle" stroke="#000" stroke-width="0.3">3</text>
<text x="236.87" y="713.5" font-size="23.7" text-anchor="middle" stroke="#000" stroke-width="0.3">5</text>
<text x="303.96" y="713.5" font-size="23.7" text-anchor="middle" stroke="#000" stroke-width="0.3">7</text>
<text x="371.06" y="713.5" font-size="23.7" text-anchor="middle" stroke="#000" stroke-width="0.3">9</text>
<text x="438.16" y="713.5" font-size="23.7" text-anchor="middle" stroke="#000" stroke-width="0.3">11</text>
<text x="505.25" y="713.5" font-size="23.7" text-anchor="middle" stroke="#000" stroke-width="0.3">13</text>
<text x="572.35" y="713.5" font-size="23.7" text-anchor="middle" stroke="#000" stroke-width="0.3">15</text>
<text x="639.45" y="713.5" font-size="23.7" text-anchor="middle" stroke="#000" stroke-width="0.3">17</text>
<text x="706.55" y="713.5" font-size="23.7" text-anchor="middle" stroke="#000" stroke-width="0.3">19</text>
<text x="773.64" y="713.5" font-size="23.7" text-anchor="middle" stroke="#000" stroke-width="0.3">21</text>
<text x="840.74" y="713.5" font-size="23.7" text-anchor="middle" stroke="#000" stroke-width="0.3">23</text>
<text x="907.84" y="713.5" font-size="23.7" text-anchor="middle" stroke="#000" stroke-width="0.3">25</text>
<text x="974.93" y="713.5" font-size="23.7" text-anchor="middle" stroke="#000" stroke-width="0.3">27</text>
<text x="1042.03" y="713.5" font-size="23.7" text-anchor="middle" stroke="#000" stroke-width="0.3">29</text>
<text x="1109.13" y="713.5" font-size="23.7" text-anchor="middle" stroke="#000" stroke-width="0.3">31</text>
<rect x="134.3" y="88.3" width="758.5" height="79.7" fill="url(#lg)" stroke="#a8a8a8" stroke-width="1.2"/>
<rect x="147.7" y="102.7" width="57.3" height="14" fill="url(#pt)" stroke="#333" stroke-width="1.2"/>
<text x="213" y="116" font-size="24" stroke="#000" stroke-width="0.3">Rainfall mm</text>
<line x1="147.7" x2="206.7" y1="150" y2="150" stroke="#000" stroke-width="2.2"/><circle cx="176.5" cy="150" r="6.8" fill="#fff" stroke="#000" stroke-width="1.2"/>
<text x="213" y="156" font-size="24" stroke="#000" stroke-width="0.3" textLength="141.2" lengthAdjust="spacingAndGlyphs">7-d Av Temp</text>
<line x1="401.7" x2="460" y1="109.5" y2="109.5" stroke="#000" stroke-width="2.2"/><rect x="424.4" y="104" width="11" height="11" fill="#fff" stroke="#000" stroke-width="1.2"/>
<text x="466.3" y="116.3" font-size="24" stroke="#000" stroke-width="0.3" textLength="110.9" lengthAdjust="spacingAndGlyphs">Dew Point</text>
<line x1="401.7" x2="460" y1="150" y2="150" stroke="#000" stroke-width="1.3"/><path d="M430.2,143.2 L437,150 L430.2,156.8 L423.4,150 Z" fill="#000"/>
<text x="467" y="156" font-size="24" stroke="#000" stroke-width="0.3">Max, Min Temp</text>
<line x1="655.6" x2="672.5" y1="110" y2="110" stroke="#000" stroke-width="2.5"/><line x1="688" x2="701.7" y1="110" y2="110" stroke="#000" stroke-width="2.5"/><rect x="712.5" y="109" width="1.2" height="2" fill="#333"/>
<path d="M683.3,103.4 L690.1,116.4 L676.5,116.4 Z" fill="#a0a0a0" stroke="#1a1a1a" stroke-width="1.1"/>
<text x="720" y="116" font-size="24" stroke="#000" stroke-width="0.3" textLength="151.8" lengthAdjust="spacingAndGlyphs">Subsoil Temp</text>
<line x1="676" x2="692" y1="149.6" y2="149.6" stroke="#000" stroke-width="2.4"/>
<text x="720" y="156" font-size="24" stroke="#000" stroke-width="0.3">[T] Cloud</text>
<path d="M927.5,87.6 L1084.8,87.6 L1084.8,145.4 L991.25,145.4 L975.5,167.5 L953.75,145.4 L927.5,145.4 Z" fill="#fff" stroke="#0a0a0a" stroke-width="1.5" stroke-linejoin="miter"/>
<text x="1006.75" y="109" font-size="20.4" font-weight="bold" text-anchor="middle">First 30° day:</text>
<text x="1006.75" y="136" font-size="20.4" font-weight="bold" text-anchor="middle">five weeks late.</text>
<path d="M921.25,240.5 L1084.8,240.5 L1084.8,302 L1057.2,302 L1027,325.5 L1016.7,302 L921.25,302 Z" fill="#fff" stroke="#0a0a0a" stroke-width="1.5" stroke-linejoin="miter"/>
<text x="1003.62" y="262" font-size="20.4" font-weight="bold" text-anchor="middle">Warmest week,</text>
<text x="1003.62" y="289" font-size="20.4" font-weight="bold" text-anchor="middle">still 0.5° low.</text>
<path d="M453,434.5 L526.25,434.5 L568.5,412.5 L558.75,434.5 L578.75,434.5 L578.75,495.5 L453,495.5 Z" fill="#fff" stroke="#0a0a0a" stroke-width="1.5" stroke-linejoin="miter"/>
<text x="516.48" y="456.4" font-size="20.4" font-weight="bold" text-anchor="middle">Cold week,</text>
<text x="516.48" y="483.4" font-size="20.4" font-weight="bold" text-anchor="middle">5.4° low.</text>
<path d="M842.6,434.8 L938.2,434.8 L938.2,522 L881,522 L840.5,583.3 L856.7,522 L842.6,522 Z" fill="#fff" stroke="#0a0a0a" stroke-width="1.5" stroke-linejoin="miter"/>
<text x="891" y="455.8" font-size="20.4" font-weight="bold" text-anchor="middle">Almost a</text>
<text x="891" y="482.8" font-size="20.4" font-weight="bold" text-anchor="middle">late frost</text>
<text x="891" y="509.8" font-size="20.4" font-weight="bold" text-anchor="middle">(2.2°).</text>
</svg>
</body></html>
